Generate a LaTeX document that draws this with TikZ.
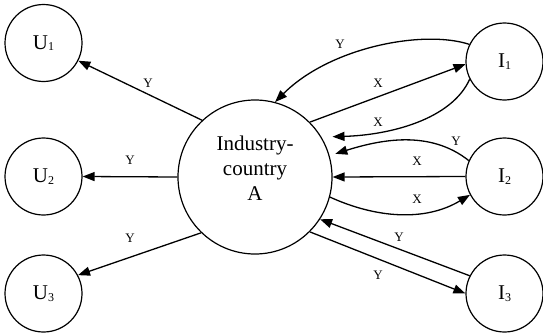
\documentclass[tikz,border=0pt]{standalone}
\usepackage{fontspec}
\setmainfont{Liberation Serif}
\usetikzlibrary{arrows.meta}
\newcommand{\mysub}[1]{\raisebox{-1.5pt}{\fontsize{12}{12}\selectfont #1}}
\begin{document}
\begin{tikzpicture}[x=1pt,y=-1pt,
  ent/.style={circle,draw,line width=1.2pt,minimum size=77pt,inner sep=0pt,font=\fontsize{21}{25}\selectfont},
  big/.style={circle,draw,line width=1.2pt,minimum size=154pt,inner sep=0pt},
  bigtext/.style={align=center,inner sep=0pt,font=\fontsize{21}{25}\selectfont},
  flow/.style={line width=1.3pt,-{Triangle[length=12pt,width=9pt]}},
  lab/.style={font=\fontsize{13}{13}\selectfont,inner sep=0pt}]
\useasboundingbox (0,0) rectangle (543,332);
% nodes
\node[ent] (U1) at (43.5,43) {U\mysub{1}};
\node[ent] (U2) at (43.5,176.5) {U\mysub{2}};
\node[ent] (U3) at (43.5,293.5) {U\mysub{3}};
\node[ent] (I1) at (504.5,61.5) {I\mysub{1}};
\node[ent] (I2) at (504.5,176.5) {I\mysub{2}};
\node[ent] (I3) at (504.5,293.5) {I\mysub{3}};
\node[big] (A) at (255,177) {};
\node[bigtext] (At) at (255,168) {Industry-\\country\\A};
% connectors
\draw[flow] (A.133) -- (U1.-27);
\draw[flow] (A.180) -- (U2.0);
\draw[flow] (A.226) -- (U3.28);
\draw[flow] (I1.154) .. controls +(-46,-15) and +(55,-55) .. (A.75);
\draw[flow] (A.45) -- (I1.184);
\draw[flow,shorten >=11pt] (I1.207) .. controls +(-18,40) and +(69,-2) .. (A.31);
\draw[flow,shorten >=6pt] (I2.156) .. controls +(-39,-31) and +(51,-16) .. (A.16);
\draw[flow] (I2.180) -- (A.0);
\draw[flow] (A.345) .. controls +(46,21) and +(-45,27) .. (I2.208);
\draw[flow] (I3.153) -- (A.327);
\draw[flow] (A.315) -- (I3.180);
% labels
\node[lab] (l1) at (148,83) {Y};
\node[lab] (l2) at (130,160) {Y};
\node[lab] (l3) at (130,238) {Y};
\node[lab] (l4) at (340,44) {Y};
\node[lab] (l5) at (378,83) {X};
\node[lab] (l6) at (378,122) {X};
\node[lab] (l7) at (456,141) {Y};
\node[lab] (l8) at (417,161) {X};
\node[lab] (l9) at (417,199) {X};
\node[lab] (l10) at (399,237) {Y};
\node[lab] (l11) at (378,275) {Y};
\end{tikzpicture}
\end{document}
